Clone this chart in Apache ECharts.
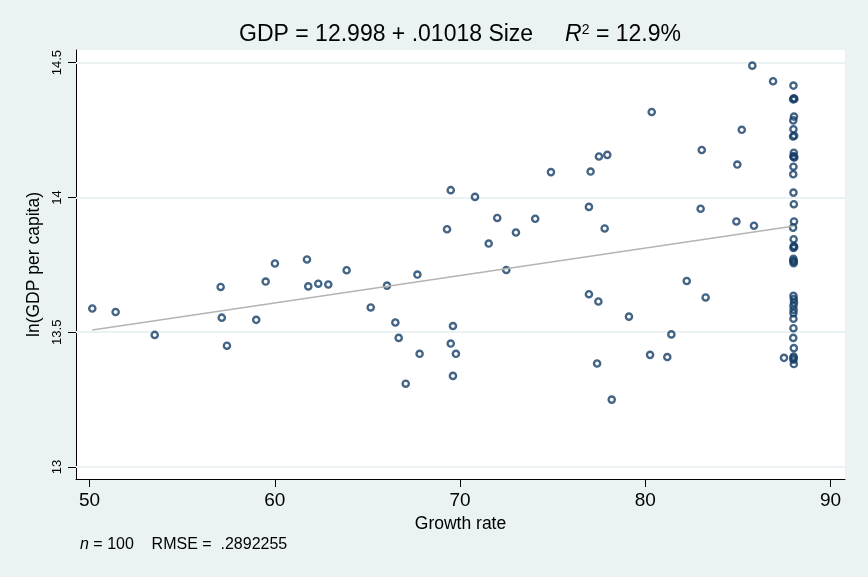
<!DOCTYPE html>
<html>
<head>
<meta charset="utf-8">
<script src="https://cdn.jsdelivr.net/npm/echarts@6/dist/echarts.min.js"></script>
<style>
  html, body { margin: 0; padding: 0; background: #eaf2f3; }
  #chart { width: 868px; height: 577px; }
</style>
</head>
<body>
<div id="chart"></div>
<script>
// Growth rate (x) and ln(GDP per capita) (y) for the 100 observations
const growth = [
  50.15, 51.41, 53.52, 57.08, 57.14, 57.42, 59.00, 59.51, 60.01, 61.74,
  61.81, 62.35, 62.89, 63.88, 65.18, 66.06, 66.51, 66.69, 67.07, 67.70,
  67.82, 69.30, 69.50, 69.50, 69.62, 69.78, 69.62, 70.81, 71.55, 72.01,
  72.50, 73.02, 74.06, 74.91, 76.96, 77.05, 76.96, 77.47, 77.40, 77.81,
  78.19, 79.12, 77.50, 77.95, 85.78, 86.90, 80.35, 85.21, 83.05, 84.97,
  82.99, 84.92, 85.87, 82.24, 83.26, 81.41, 80.26, 81.19, 87.49,
  88.00, 88.02, 87.98, 88.05, 88.03, 87.99, 88.00, 88.04, 87.98, 88.02,
  88.00, 88.05, 88.01, 88.00, 87.99, 88.00, 88.02, 88.03, 87.98, 88.01,
  88.02, 88.00, 88.04, 88.00, 88.02, 88.01, 87.99, 88.00, 88.02, 88.03,
  88.00, 88.01, 88.00, 88.00, 88.00, 87.99, 88.02, 88.01, 88.00, 88.02,
  88.00
];
const lngdp = [
  13.588, 13.575, 13.490, 13.668, 13.554, 13.450, 13.546, 13.688, 13.755, 13.770,
  13.670, 13.680, 13.677, 13.730, 13.592, 13.673, 13.536, 13.479, 13.309, 13.714,
  13.420, 13.882, 14.027, 13.458, 13.523, 13.420, 13.338, 14.002, 13.829, 13.924,
  13.731, 13.870, 13.921, 14.094, 13.965, 14.096, 13.641, 13.614, 13.384, 13.885,
  13.250, 13.558, 14.152, 14.158, 14.489, 14.431, 14.317, 14.251, 14.176, 14.122,
  13.958, 13.911, 13.895, 13.690, 13.629, 13.492, 13.416, 13.408, 13.405,
  14.415, 14.368, 14.364, 14.365, 14.300, 14.286, 14.253, 14.229, 14.226, 14.166,
  14.154, 14.148, 14.150, 14.114, 14.086, 14.018, 13.975, 13.911, 13.888, 13.845,
  13.820, 13.813, 13.816, 13.772, 13.762, 13.756, 13.765, 13.635, 13.623, 13.610,
  13.598, 13.583, 13.571, 13.550, 13.515, 13.479, 13.441, 13.410, 13.398, 13.382,
  13.404
];

// Regression coefficients and fit statistics
const intercept = 12.998;
const slope = 0.01018;
const r2Label = '12.9%';
const nObs = 100;
const rmse = '.2892255';

// Axis ticks
const xTicks = [50, 60, 70, 80, 90];
const yTicks = [13, 13.5, 14, 14.5];

const points = growth.map((g, i) => [g, lngdp[i]]);
const xLo = Math.min(...growth);
const xHi = Math.max(...growth);
const fitLine = [[xLo, intercept + slope * xLo], [xHi, intercept + slope * xHi]];

const navy = '#143d66';
const FONT = '"Liberation Sans", Arial, Helvetica, sans-serif';

const chart = echarts.init(document.getElementById('chart'), null, { renderer: 'canvas' });

chart.setOption({
  backgroundColor: '#eaf2f3',
  animation: false,
  textStyle: { fontFamily: FONT },
  grid: {
    left: 76, right: 23, top: 50, bottom: 98,
    show: true, backgroundColor: '#ffffff', borderWidth: 0
  },
  xAxis: {
    type: 'value',
    min: 49.271, max: 90.783,
    name: 'Growth rate',
    nameLocation: 'middle',
    nameGap: 35,
    nameTextStyle: { fontSize: 17.5, color: '#000', fontFamily: FONT },
    axisLine: { show: true, onZero: false, lineStyle: { color: '#000', width: 1 } },
    axisTick: { show: true, length: 8, customValues: xTicks, lineStyle: { color: '#000' } },
    axisLabel: { customValues: xTicks, fontSize: 19, color: '#000', margin: 12, fontFamily: FONT },
    splitLine: { show: false }
  },
  yAxis: {
    type: 'value',
    min: 12.9555, max: 14.547,
    name: 'ln(GDP per capita)',
    nameLocation: 'middle',
    nameRotate: 90,
    nameGap: 30,
    nameTextStyle: { fontSize: 17.5, color: '#000', fontFamily: FONT },
    axisLine: { show: true, onZero: false, lineStyle: { color: '#000', width: 1 } },
    axisTick: { show: true, length: 8, customValues: yTicks, lineStyle: { color: '#000' } },
    axisLabel: {
      customValues: yTicks, fontSize: 13, color: '#000', rotate: 90, margin: 12,
      fontFamily: FONT,
      formatter: v => String(v)
    },
    splitLine: { show: false }
  },
  series: [
    {
      // horizontal grid lines at the y ticks, kept beneath the markers
      type: 'scatter',
      data: [],
      z: 1,
      silent: true,
      markLine: {
        z: 1,
        silent: true,
        symbol: ['none', 'none'],
        label: { show: false },
        lineStyle: { color: '#eaf2f3', width: 2, type: 'solid' },
        data: yTicks.map(v => ({ yAxis: v }))
      }
    },
    {
      type: 'scatter',
      data: points,
      symbol: 'circle',
      symbolSize: 6.2,
      itemStyle: { color: 'rgba(255,255,255,0)', borderColor: navy, borderWidth: 2.4 },
      z: 3
    },
    {
      type: 'line',
      data: fitLine,
      symbol: 'none',
      lineStyle: { color: '#b4b4b4', width: 1.5 },
      z: 4
    }
  ],
  graphic: [
    {
      type: 'text',
      x: 460, y: 35,
      style: {
        text: '{a|GDP = 12.998 + .01018 Size     }{i|R}{s|2}{a| = ' + r2Label + '}',
        align: 'center',
        verticalAlign: 'middle',
        rich: {
          a: { fontSize: 23, fontFamily: FONT, fill: '#000' },
          i: { fontSize: 23, fontFamily: FONT, fontStyle: 'italic', fill: '#000' },
          s: { fontSize: 14, fontFamily: FONT, fill: '#000', padding: [0, 0, 10, 0] }
        }
      }
    },
    {
      type: 'text',
      x: 80, y: 545,
      style: {
        text: '{i|n}{a| = ' + nObs + '    RMSE =  ' + rmse + '}',
        align: 'left',
        verticalAlign: 'middle',
        rich: {
          a: { fontSize: 16, fontFamily: FONT, fill: '#000' },
          i: { fontSize: 16, fontFamily: FONT, fontStyle: 'italic', fill: '#000' }
        }
      }
    }
  ]
});
</script>
</body>
</html>
